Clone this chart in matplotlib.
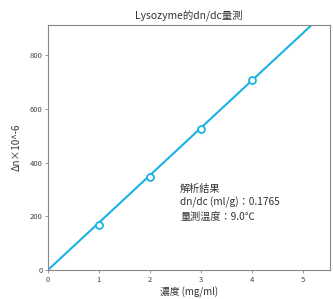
import matplotlib
matplotlib.use("Agg")
import matplotlib.pyplot as plt
import numpy as np

plt.rcParams['font.family'] = ['Noto Sans CJK TC', 'DejaVu Sans']

conc = [1, 2, 3, 4]
delta_n = [167, 347, 525, 707]
slope = 176.5
xmax = 5.53
ymax = 912

fig = plt.figure(figsize=(3.33, 2.99), dpi=100)
ax = fig.add_axes([0.144, 0.097, 0.847, 0.819])

xs = np.array([0, xmax])
ax.plot(xs, slope * xs, color='#1ab2e4', lw=1.5, zorder=2)
ax.plot(conc, delta_n, 'o', ms=5, mfc='white', mec='#1ab2e4', mew=1.3, zorder=3)

ax.set_xlim(0, xmax)
ax.set_ylim(0, ymax)
ax.set_xticks([0, 1, 2, 3, 4, 5])
ax.set_yticks([0, 200, 400, 600, 800])
ax.tick_params(labelsize=5.5, length=2, width=0.6, color='#888888', labelcolor='#444444', pad=2)
for s in ax.spines.values():
    s.set_color('#888888')
    s.set_linewidth(0.8)

ax.set_title('Lysozyme的dn/dc量測', fontsize=7.5, pad=5, color='#333333')
ax.set_xlabel('濃度 (mg/ml)', fontsize=7, labelpad=2, color='#333333')
ax.set_ylabel('Δn×10^-6', fontsize=7, labelpad=6, color='#333333')

ax.text(2.59, 322, '解析結果\ndn/dc (ml/g)：0.1765\n量測溫度：9.0℃', fontsize=7.3,
        va='top', ha='left', linespacing=1.4, color='#333333')

fig.savefig('out.png', dpi=100)
